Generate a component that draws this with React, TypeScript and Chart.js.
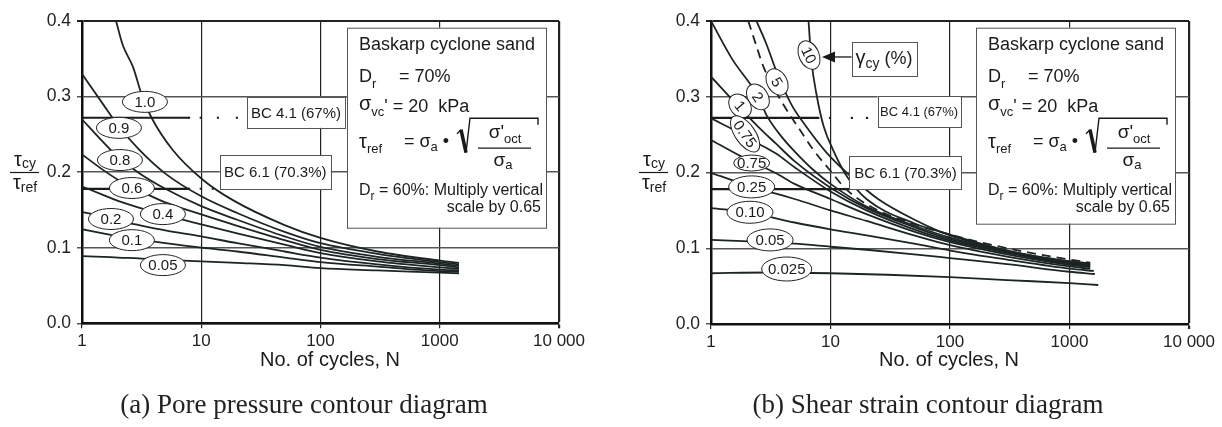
import React, { useEffect, useRef } from 'react';
import { Chart, registerables } from 'chart.js';

Chart.register(...registerables);

const FONT = '"Liberation Sans", Arial, Helvetica, sans-serif';
const SERIF = '"Liberation Serif", "Times New Roman", serif';
const INK = '#1c2424';

// ---------- shared axes ----------
const X_TICKS = [1, 10, 100, 1000, 10000];
const Y_TICKS = [0, 0.1, 0.2, 0.3, 0.4];

// ---------- (a) pore pressure contours ----------
const PP_N = [1, 1.5, 2, 3, 5, 10, 20, 50, 100, 300, 1000, 1450];
const PP_10_N = [1.93, 2.2, 2.68, 3.2, 3.86, 5.79, 10.3, 18.4, 50, 100, 300, 1000, 1450];
const PP_10_V = [0.4, 0.368, 0.339, 0.3, 0.271, 0.229, 0.19, 0.163, 0.13, 0.113, 0.095, 0.083, 0.08];
const PP_09_V = [0.33, 0.29, 0.262, 0.23, 0.198, 0.168, 0.146, 0.121, 0.106, 0.092, 0.081, 0.078];
const PP_08_V = [0.27, 0.24, 0.22, 0.199, 0.178, 0.155, 0.137, 0.115, 0.101, 0.088, 0.079, 0.076];
const PP_06_V = [0.2235, 0.203, 0.19, 0.176, 0.16, 0.144, 0.129, 0.11, 0.097, 0.085, 0.077, 0.074];
const PP_04_V = [0.181, 0.17, 0.162, 0.153, 0.143, 0.131, 0.119, 0.104, 0.093, 0.082, 0.074, 0.072];
const PP_02_V = [0.1475, 0.141, 0.136, 0.13, 0.123, 0.115, 0.106, 0.095, 0.087, 0.078, 0.071, 0.07];
const PP_01_V = [0.1245, 0.119, 0.115, 0.111, 0.106, 0.1, 0.095, 0.087, 0.081, 0.075, 0.069, 0.068];
const PP_005_V = [0.089, 0.088, 0.087, 0.086, 0.084, 0.082, 0.08, 0.077, 0.073, 0.07, 0.067, 0.066];

const PP_LABELS = ['1.0', '0.9', '0.8', '0.6', '0.4', '0.2', '0.1', '0.05'];
const PP_LABEL_N = [3.37, 2.04, 2.08, 2.62, 4.77, 1.75, 2.62, 4.77];
const PP_LABEL_V = [0.293, 0.2586, 0.216, 0.179, 0.1445, 0.138, 0.11, 0.077];

// ---------- (b) shear strain contours ----------
const SS_10_N = [6.55, 6.9, 7.7, 8.8, 10.5, 13.7, 20, 50, 100, 300, 1000, 1490];
const SS_10_V = [0.4, 0.35, 0.3, 0.26, 0.23, 0.195, 0.165, 0.133, 0.118, 0.097, 0.083, 0.08];
const SS_5_N = [2.4, 2.9, 3.6, 4.7, 6.3, 9.3, 14.5, 25, 50, 100, 300, 1000, 1490];
const SS_5_V = [0.4, 0.37, 0.33, 0.29, 0.26, 0.226, 0.196, 0.165, 0.138, 0.117, 0.097, 0.082, 0.079];
const SS_DASH_N = [2.05, 2.41, 2.74, 3.32, 4.3, 5.56, 7.18, 9.9, 13.7, 25, 50, 100, 300, 1000, 1490];
const SS_DASH_V = [0.4, 0.366, 0.34, 0.313, 0.2825, 0.256, 0.23, 0.203, 0.177, 0.15, 0.132, 0.118, 0.1, 0.085, 0.081];
const SS_2_N = [1, 1.5, 2.49, 2.93, 4, 5, 7, 10, 20, 50, 100, 300, 1000, 1490];
const SS_2_V = [0.4, 0.35, 0.3, 0.275, 0.245, 0.228, 0.205, 0.185, 0.155, 0.13, 0.114, 0.096, 0.081, 0.078];
const SS_N = [1, 1.75, 2.5, 3.5, 5, 10, 20, 50, 100, 300, 1000, 1490];
const SS_1_V = [0.3265, 0.285, 0.26, 0.238, 0.215, 0.18, 0.153, 0.128, 0.112, 0.095, 0.08, 0.077];
const SS_075_V = [0.2715, 0.252, 0.238, 0.225, 0.207, 0.175, 0.15, 0.125, 0.11, 0.094, 0.079, 0.076];
const SS_050_V = [0.243, 0.222, 0.21, 0.199, 0.185, 0.165, 0.145, 0.122, 0.108, 0.092, 0.078, 0.075];
const SS_025_V = [0.1997, 0.186, 0.178, 0.172, 0.165, 0.15, 0.136, 0.117, 0.104, 0.089, 0.076, 0.073];
const SS_010_N = [1, 2.2, 3, 5, 10, 20, 50, 100, 300, 1000, 1600];
const SS_010_V = [0.153, 0.147, 0.142, 0.134, 0.125, 0.117, 0.106, 0.097, 0.085, 0.073, 0.07];
const SS_005_N = [1, 3, 5, 10, 20, 50, 100, 300, 1000, 1630];
const SS_005_V = [0.111, 0.108, 0.106, 0.102, 0.098, 0.092, 0.087, 0.079, 0.069, 0.066];
const SS_0025_N = [1, 3, 10, 30, 100, 300, 1000, 1740];
const SS_0025_V = [0.067, 0.068, 0.067, 0.065, 0.062, 0.058, 0.054, 0.0515];

const SS_LABELS = ['10', '5', '2', '1', '0.75', '0.75', '0.25', '0.10', '0.05', '0.025'];
const SS_LABEL_N = [6.61, 3.57, 2.47, 1.75, 1.93, 2.19, 2.19, 2.12, 3.12, 4.3];
const SS_LABEL_V = [0.355, 0.3195, 0.2997, 0.288, 0.251, 0.2125, 0.181, 0.1475, 0.111, 0.0726];
// label styling (rotation deg, ellipse radii)
const SS_LABEL_ROT = [65, 60, 55, 50, 55, 0, 0, 0, 0, 0];
const SS_LABEL_RX = [15, 14, 14, 13, 21, 18, 23, 23, 23, 25];
const SS_LABEL_RY = [10, 10, 10, 10, 10, 8, 11, 11, 11, 12];

// ---------- BC test levels ----------
const BC41_V = 0.272;
const BC61_V = 0.178;
const BC41_A_LINE_N = [1, 7.9];
const BC41_A_DOT_N = [7.9, 9.9, 13.8, 19.9];
const BC61_A_LINE_N = [1, 7.9];
const BC61_A_DOT_N = [7.9, 9.9, 12.5];
const BC41_B_LINE_N = [1, 7.9];
const BC41_B_DOT_N = [7.9, 9.9, 15.1, 20.2];
const BC61_B_LINE_N = [1, 14.4];
const BC61_B_DOT_N: number[] = [];

type Run = [string, number, number];

function runsWidth(ctx: CanvasRenderingContext2D, runs: Run[]) {
  let w = 0;
  for (const [t, s] of runs) {
    ctx.font = `${s}px ${FONT}`;
    w += ctx.measureText(t).width;
  }
  return w;
}

function drawRuns(ctx: CanvasRenderingContext2D, x: number, y: number, runs: Run[], align = 'left') {
  let cx = x;
  if (align === 'center') cx = x - runsWidth(ctx, runs) / 2;
  if (align === 'right') cx = x - runsWidth(ctx, runs);
  ctx.textAlign = 'left';
  ctx.textBaseline = 'middle';
  for (const [t, s, dy] of runs) {
    ctx.font = `${s}px ${FONT}`;
    ctx.fillText(t, cx, y + dy);
    cx += ctx.measureText(t).width;
  }
  return cx;
}

function ellipseLabel(ctx: CanvasRenderingContext2D, x: number, y: number, text: string, rx: number, ry: number, rot: number) {
  ctx.save();
  ctx.translate(x, y);
  ctx.rotate((rot * Math.PI) / 180);
  ctx.beginPath();
  ctx.ellipse(0, 0, rx, ry, 0, 0, Math.PI * 2);
  ctx.fillStyle = '#fff';
  ctx.fill();
  ctx.lineWidth = 1;
  ctx.strokeStyle = '#222';
  ctx.stroke();
  ctx.fillStyle = '#1a1a1a';
  ctx.font = `15px ${FONT}`;
  ctx.textAlign = 'center';
  ctx.textBaseline = 'middle';
  ctx.fillText(text, 0, 1);
  ctx.restore();
}

function drawInfoBox(ctx: CanvasRenderingContext2D, L: number, T: number, H: number) {
  const W = 199;
  ctx.save();
  ctx.fillStyle = '#fff';
  ctx.fillRect(L, T, W, H);
  ctx.strokeStyle = '#555';
  ctx.lineWidth = 1;
  ctx.strokeRect(L + 0.5, T + 0.5, W, H);
  ctx.fillStyle = '#1a1a1a';
  drawRuns(ctx, L + 12, T + 17, [['Baskarp cyclone sand', 18, 0]]);
  drawRuns(ctx, L + 12, T + 49, [['D', 18, 0], ['r', 13, 8]]);
  drawRuns(ctx, L + 52, T + 49, [['= 70%', 18, 0]]);
  drawRuns(ctx, L + 12, T + 77, [['σ', 20, 0], ['vc', 13, 8], ["' = 20  kPa", 18, 2]]);
  drawRuns(ctx, L + 12, T + 115, [['τ', 20, 0], ['ref', 13, 7]]);
  drawRuns(ctx, L + 57, T + 114, [['= σ', 18, 0], ['a', 13, 6], [' •', 18, 0]]);
  // radical
  ctx.strokeStyle = '#1a1a1a';
  ctx.lineWidth = 1.4;
  ctx.beginPath();
  ctx.moveTo(L + 110, T + 106);
  ctx.lineTo(L + 114, T + 102);
  ctx.stroke();
  ctx.lineWidth = 3.5;
  ctx.beginPath();
  ctx.moveTo(L + 114, T + 102);
  ctx.lineTo(L + 119, T + 125);
  ctx.stroke();
  ctx.lineWidth = 1.4;
  ctx.beginPath();
  ctx.moveTo(L + 119, T + 125);
  ctx.lineTo(L + 123, T + 90.5);
  ctx.lineTo(L + 191, T + 90.5);
  ctx.lineTo(L + 191, T + 97);
  ctx.stroke();
  // fraction
  drawRuns(ctx, L + 158, T + 105, [["σ'", 19, 0], ['oct', 13, 7]], 'center');
  ctx.lineWidth = 1.2;
  ctx.beginPath();
  ctx.moveTo(L + 131, T + 120.5);
  ctx.lineTo(L + 184, T + 120.5);
  ctx.stroke();
  drawRuns(ctx, L + 156, T + 133, [['σ', 19, 0], ['a', 13, 5]], 'center');
  drawRuns(ctx, L + 12, T + 163, [['D', 16, 0], ['r', 12, 6], [' = 60%: Multiply vertical', 16, 0]]);
  drawRuns(ctx, L + 194, T + 180, [['scale by 0.65', 16, 0]], 'right');
  ctx.restore();
}

type Spec = {
  padLeft: number;
  padRight: number;
  xHeight: number;
  curves: [number[], number[]][];
  dashed: [number[], number[]][];
  bc: { lineN: number[]; dotN: number[]; v: number }[];
  bcBoxes: { n: number; top: number; bottom: number; w: number; text: string; size: number }[];
  labels: string[];
  labelN: number[];
  labelV: number[];
  labelRot: number[];
  labelRx: number[];
  labelRy: number[];
  infoH: number;
  caption: string;
  captionX: number;
  xTitleX: number;
  gamma: boolean;
};

const pts = (n: number[], v: number[]) => n.map((x, i) => ({ x, y: v[i] }));

function buildConfig(spec: Spec): any {
  const datasets: any[] = [];
  for (const [n, v] of spec.curves) {
    datasets.push({ data: pts(n, v), borderColor: INK, borderWidth: 1.8, pointRadius: 0, cubicInterpolationMode: 'monotone', fill: false });
  }
  for (const [n, v] of spec.dashed) {
    datasets.push({ data: pts(n, v), borderColor: INK, borderWidth: 1.8, borderDash: [9, 6], pointRadius: 0, cubicInterpolationMode: 'monotone', fill: false });
  }
  for (const b of spec.bc) {
    datasets.push({ data: b.lineN.map((x) => ({ x, y: b.v })), borderColor: '#1a1a1a', borderWidth: 2.2, pointRadius: 0, fill: false });
    if (b.dotN.length)
      datasets.push({ data: b.dotN.map((x) => ({ x, y: b.v })), showLine: false, pointStyle: 'rect', pointRadius: 1.5, backgroundColor: '#1a1a1a', borderWidth: 0 });
  }

  const overlay = {
    id: 'overlay',
    afterDraw(chart: any) {
      const ctx: CanvasRenderingContext2D = chart.ctx;
      const xs = chart.scales.x;
      const ys = chart.scales.y;
      const ca = chart.chartArea;
      ctx.save();
      // curve labels
      spec.labels.forEach((t, i) => {
        ellipseLabel(ctx, xs.getPixelForValue(spec.labelN[i]), ys.getPixelForValue(spec.labelV[i]), t, spec.labelRx[i], spec.labelRy[i], spec.labelRot[i]);
      });
      // BC boxes
      for (const b of spec.bcBoxes) {
        const x = xs.getPixelForValue(b.n);
        const yt = ys.getPixelForValue(b.top);
        const yb = ys.getPixelForValue(b.bottom);
        ctx.fillStyle = '#fff';
        ctx.fillRect(x, yt, b.w, yb - yt);
        ctx.strokeStyle = '#555';
        ctx.lineWidth = 1;
        ctx.strokeRect(Math.round(x) + 0.5, Math.round(yt) + 0.5, b.w, Math.round(yb - yt));
        ctx.fillStyle = '#1a1a1a';
        ctx.font = `${b.size}px ${FONT}`;
        ctx.textAlign = 'center';
        ctx.textBaseline = 'middle';
        ctx.fillText(b.text, x + b.w / 2, (yt + yb) / 2 + 1);
      }
      // gamma box with arrow
      if (spec.gamma) {
        const bx = xs.getPixelForValue(15.0);
        const byT = ys.getPixelForValue(0.3727);
        const byB = ys.getPixelForValue(0.3274);
        const ay = ys.getPixelForValue(0.3525);
        const tip = xs.getPixelForValue(8.49);
        ctx.fillStyle = '#fff';
        ctx.fillRect(bx, byT, 65, byB - byT);
        ctx.strokeStyle = '#555';
        ctx.lineWidth = 1;
        ctx.strokeRect(Math.round(bx) + 0.5, Math.round(byT) + 0.5, 65, Math.round(byB - byT));
        ctx.fillStyle = '#1a1a1a';
        drawRuns(ctx, bx + 32.5, (byT + byB) / 2, [['γ', 20, 0], ['cy', 14, 5], [' (%)', 18, 0]], 'center');
        ctx.strokeStyle = '#1a1a1a';
        ctx.lineWidth = 1.3;
        ctx.beginPath();
        ctx.moveTo(bx, ay);
        ctx.lineTo(tip + 10, ay);
        ctx.stroke();
        ctx.beginPath();
        ctx.moveTo(tip, ay);
        ctx.lineTo(tip + 13, ay - 5.5);
        ctx.lineTo(tip + 13, ay + 5.5);
        ctx.closePath();
        ctx.fill();
      }
      // info box
      drawInfoBox(ctx, ca.left + 265, ca.top + 6.7, spec.infoH);
      // y axis title (fraction)
      const fx = ca.left - 57;
      ctx.fillStyle = '#1a1a1a';
      drawRuns(ctx, fx, 160, [['τ', 20, 0], ['cy', 14, 4]], 'center');
      ctx.strokeStyle = '#1a1a1a';
      ctx.lineWidth = 1.2;
      ctx.beginPath();
      ctx.moveTo(fx - 15, 172.5);
      ctx.lineTo(fx + 14, 172.5);
      ctx.stroke();
      drawRuns(ctx, fx, 183, [['τ', 20, 0], ['ref', 14, 5]], 'center');
      // x axis title
      ctx.fillStyle = '#1a1a1a';
      ctx.font = `20px ${FONT}`;
      ctx.textAlign = 'center';
      ctx.textBaseline = 'middle';
      ctx.fillText('No. of cycles, N', spec.xTitleX, 360);
      // caption
      ctx.fillStyle = '#222';
      ctx.font = `27px ${SERIF}`;
      ctx.fillText(spec.caption, spec.captionX, 406);
      ctx.restore();
    },
  };

  return {
    type: 'line',
    data: { datasets },
    plugins: [overlay],
    options: {
      responsive: false,
      animation: false,
      events: [],
      parsing: true,
      layout: { padding: { left: spec.padLeft, right: spec.padRight, top: 21, bottom: 0 } },
      plugins: { legend: { display: false }, tooltip: { enabled: false }, title: { display: false } },
      scales: {
        x: {
          type: 'logarithmic',
          min: 1,
          max: 10000,
          afterBuildTicks: (s: any) => {
            s.ticks = X_TICKS.map((value) => ({ value }));
          },
          afterFit: (s: any) => {
            s.height = spec.xHeight;
          },
          ticks: {
            autoSkip: false,
            maxRotation: 0,
            padding: 3,
            color: '#222',
            font: { family: FONT, size: 17 },
            callback: (v: any) => (Number(v) === 10000 ? '10 000' : String(Number(v))),
          },
          grid: {
            color: '#222',
            lineWidth: (c: any) => (c.tick && c.tick.value === 10000 ? 2.2 : 1.2),
            tickLength: 5,
            drawTicks: true,
          },
          border: { color: '#111', width: 2.5 },
        },
        y: {
          type: 'linear',
          min: 0,
          max: 0.4,
          afterBuildTicks: (s: any) => {
            s.ticks = Y_TICKS.map((value) => ({ value }));
          },
          afterFit: (s: any) => {
            s.width = 52;
          },
          ticks: {
            padding: 6,
            color: '#222',
            font: { family: FONT, size: 17.5 },
            callback: (v: any) => Number(v).toFixed(1),
          },
          grid: {
            color: (c: any) => (c.tick && c.tick.value === 0.4 ? '#222' : '#555'),
            lineWidth: (c: any) => (c.tick && c.tick.value === 0.4 ? 2 : 1.5),
            tickLength: 5,
          },
          border: { color: '#111', width: 2.5 },
        },
      },
    },
  };
}

const SPEC_A: Spec = {
  padLeft: 30,
  padRight: 52,
  xHeight: 103.7,
  curves: [
    [PP_10_N, PP_10_V],
    [PP_N, PP_09_V],
    [PP_N, PP_08_V],
    [PP_N, PP_06_V],
    [PP_N, PP_04_V],
    [PP_N, PP_02_V],
    [PP_N, PP_01_V],
    [PP_N, PP_005_V],
  ],
  dashed: [],
  bc: [
    { lineN: BC41_A_LINE_N, dotN: BC41_A_DOT_N, v: BC41_V },
    { lineN: BC61_A_LINE_N, dotN: BC61_A_DOT_N, v: BC61_V },
  ],
  bcBoxes: [
    { n: 24.2, top: 0.2995, bottom: 0.2586, w: 98, text: 'BC 4.1 (67%)', size: 15 },
    { n: 14.3, top: 0.2225, bottom: 0.1775, w: 111, text: 'BC 6.1 (70.3%)', size: 15 },
  ],
  labels: PP_LABELS,
  labelN: PP_LABEL_N,
  labelV: PP_LABEL_V,
  labelRot: PP_LABELS.map(() => 0),
  labelRx: PP_LABELS.map(() => 22.5),
  labelRy: PP_LABELS.map(() => 10.5),
  infoH: 200,
  caption: '(a) Pore pressure contour diagram',
  captionX: 304,
  xTitleX: 330,
  gamma: false,
};

const SPEC_B: Spec = {
  padLeft: 48,
  padRight: 33,
  xHeight: 103,
  curves: [
    [SS_10_N, SS_10_V],
    [SS_5_N, SS_5_V],
    [SS_2_N, SS_2_V],
    [SS_N, SS_1_V],
    [SS_N, SS_075_V],
    [SS_N, SS_050_V],
    [SS_N, SS_025_V],
    [SS_010_N, SS_010_V],
    [SS_005_N, SS_005_V],
    [SS_0025_N, SS_0025_V],
  ],
  dashed: [[SS_DASH_N, SS_DASH_V]],
  bc: [
    { lineN: BC41_B_LINE_N, dotN: BC41_B_DOT_N, v: BC41_V },
    { lineN: BC61_B_LINE_N, dotN: BC61_B_DOT_N, v: BC61_V },
  ],
  bcBoxes: [
    { n: 24.8, top: 0.301, bottom: 0.2595, w: 83, text: 'BC 4.1 (67%)', size: 13 },
    { n: 14.4, top: 0.222, bottom: 0.178, w: 112, text: 'BC 6.1 (70.3%)', size: 15 },
  ],
  labels: SS_LABELS,
  labelN: SS_LABEL_N,
  labelV: SS_LABEL_V,
  labelRot: SS_LABEL_ROT,
  labelRx: SS_LABEL_RX,
  labelRy: SS_LABEL_RY,
  infoH: 196,
  caption: '(b) Shear strain contour diagram',
  captionX: 317,
  xTitleX: 338,
  gamma: true,
};

function ContourChart({ spec, left }: { spec: Spec; left: number }) {
  const ref = useRef<HTMLCanvasElement>(null);
  useEffect(() => {
    const chart = new Chart(ref.current as HTMLCanvasElement, buildConfig(spec));
    return () => chart.destroy();
  }, [spec]);
  return (
    <canvas
      ref={ref}
      width={611}
      height={427}
      style={{ position: 'absolute', left, top: 0, width: 611, height: 427 }}
    />
  );
}

export default function App() {
  return (
    <div style={{ position: 'absolute', left: 0, top: 0, width: 1222, height: 427, background: '#fff' }}>
      <ContourChart spec={SPEC_A} left={0} />
      <ContourChart spec={SPEC_B} left={611} />
    </div>
  );
}
